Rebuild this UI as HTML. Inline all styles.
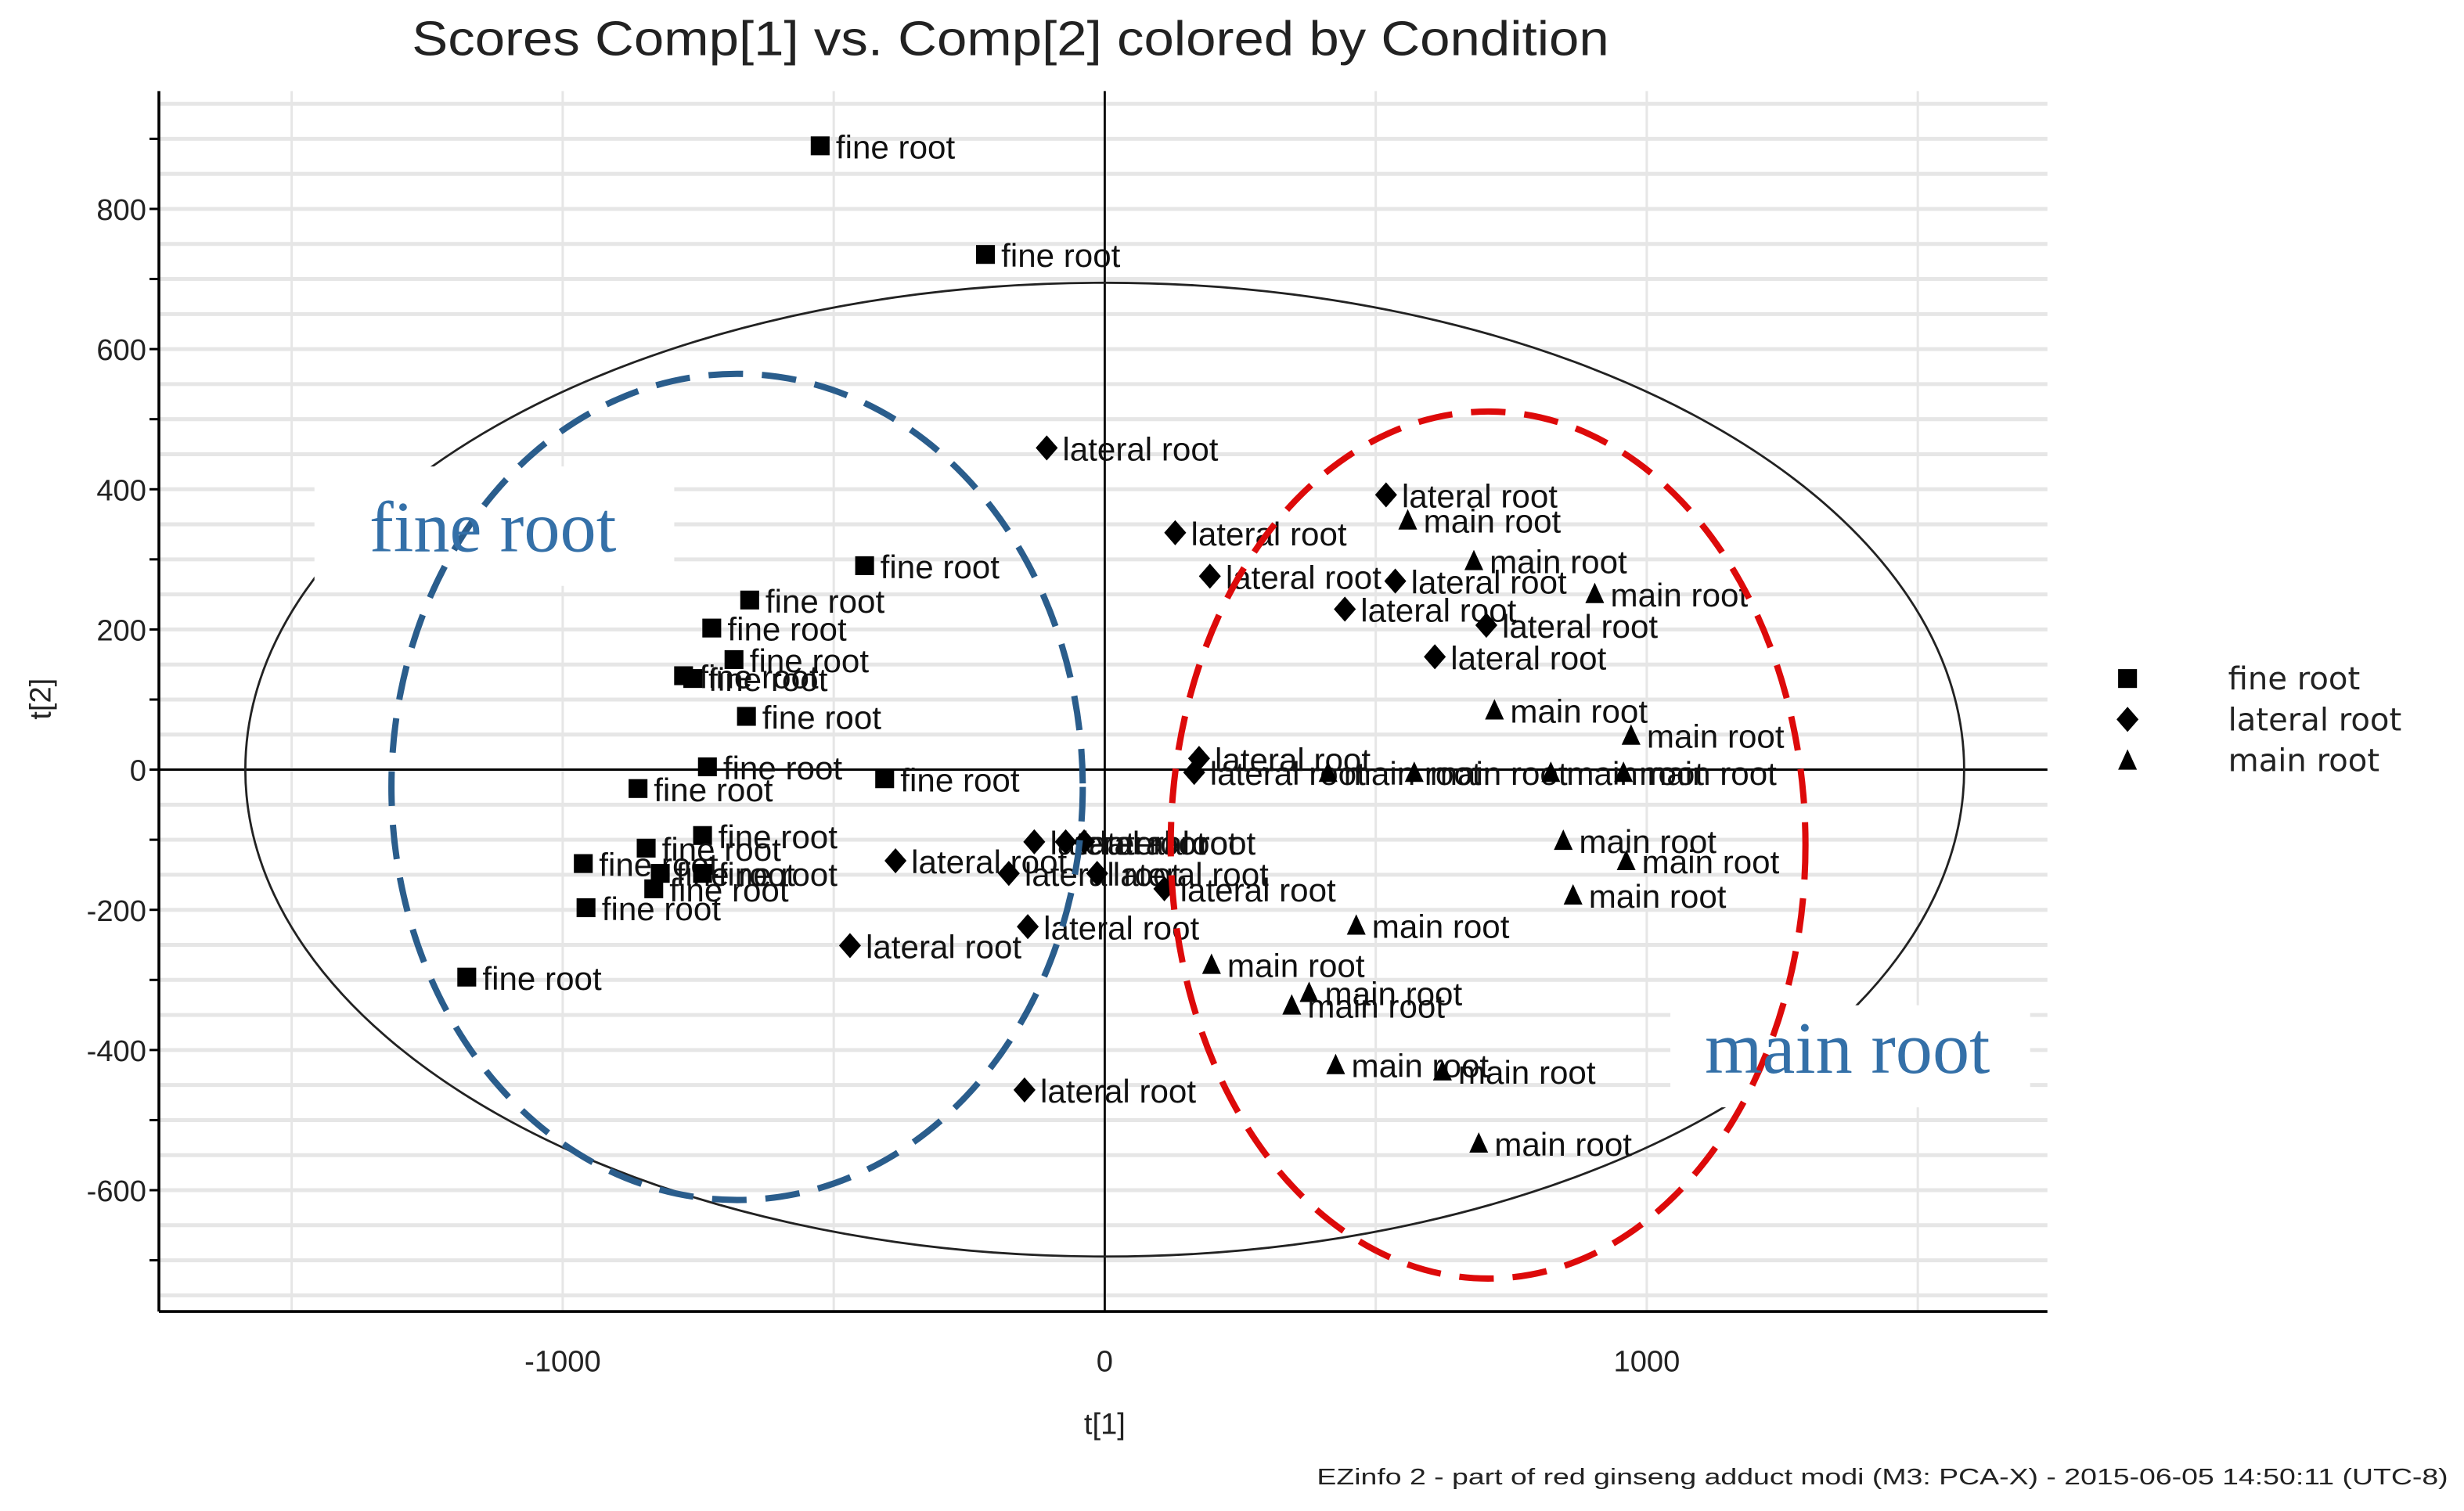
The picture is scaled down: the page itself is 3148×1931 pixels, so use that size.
<!DOCTYPE html>
<html><head><meta charset="utf-8"><style>html,body{margin:0;padding:0;background:#fff}svg{display:block}</style></head>
<body>
<svg id="chart" width="3148" height="1931" viewBox="0 0 1568 962" xmlns="http://www.w3.org/2000/svg" font-family="'Liberation Sans', sans-serif">
<rect x="0" y="0" width="1568" height="962" fill="#fff"/>
<g id="grid"></g>
<g id="axes"></g>
<g id="ellipses"></g>
<g id="points"></g>
<g id="overlays"></g>
</svg>
<script>
const fineX = [-525,-220,-443,-655,-725,-684,-777,-760,-661,-733,-406,-861,-742,-846,-962,-820,-742,-832,-957,-1177];
const fineY = [890,735,291,242,202,157,134,130,76,4,-13,-27,-94,-112,-134,-148,-148,-170,-197,-296];
const latX = [-107,130,194,519,536,443,704,609,174,165,-130,-72,-38,-386,-177,-14,110,-142,-470,-148];
const latY = [459,338,276,392,269,229,206,161,16,-4,-103,-103,-103,-130,-148,-148,-170,-224,-251,-457];
const mainX = [559,681,904,719,971,412,571,823,957,846,962,864,464,197,377,345,426,623,690];
const mainY = [356,298,251,85,49,-4,-4,-4,-4,-101,-130,-179,-222,-278,-318,-336,-421,-430,-533];
const xTicks = [-1000,0,1000];
const yTicks = [800,600,400,200,0,-200,-400,-600];
const xGrid = [-1500,-1000,-500,0,500,1000,1500];

const NS='http://www.w3.org/2000/svg';
const X0=703, XS=0.345, Y0=490, YS=0.44625;
const L=101, R=1303, T=58, B=835;
const sx=v=>X0+v*XS, sy=v=>Y0-v*YS;
function mk(tag, attrs, parent, text){const e=document.createElementNS(NS,tag);for(const k in attrs)e.setAttribute(k,attrs[k]);if(text!==undefined)e.textContent=text;document.getElementById(parent).appendChild(e);return e;}

for(let v=-750; v<=950; v+=50){
  const g=mk('line',{x1:L,x2:R,y1:sy(v),y2:sy(v),stroke:'#e6e6e6','stroke-width':2.5},'grid');
  
  
}
xGrid.forEach(v=>{
  const g=mk('line',{x1:sx(v),x2:sx(v),y1:T,y2:B,stroke:'#e6e6e6','stroke-width':1.5},'grid');
  
  
});
let a=mk('line',{x1:L,x2:L,y1:T,y2:B,stroke:'#000','stroke-width':1.8},'axes');


a=mk('line',{x1:L,x2:R,y1:B,y2:B,stroke:'#000','stroke-width':1.8},'axes');


a=mk('line',{x1:sx(0),x2:sx(0),y1:T,y2:B,stroke:'#000','stroke-width':1.4},'axes');


a=mk('line',{x1:L,x2:R,y1:sy(0),y2:sy(0),stroke:'#000','stroke-width':1.4},'axes');


for(let v=-700; v<=900; v+=100){
  const t=mk('line',{x1:L-6,x2:L,y1:sy(v),y2:sy(v),stroke:'#000','stroke-width':1.5},'axes');
  
  
}
yTicks.forEach(v=>{
  const t=mk('text',{x:93,y:sy(v)+7,'text-anchor':'end','font-size':19,fill:'#222'},'axes',String(v));
  
  
});
xTicks.forEach(v=>{
  const t=mk('text',{x:sx(v),y:873,'text-anchor':'middle','font-size':19,fill:'#222'},'axes',String(v));
  
  
});
a=mk('text',{x:703,y:913,'text-anchor':'middle','font-size':19,fill:'#222'},'axes','t[1]');


a=mk('text',{x:32,y:445,'text-anchor':'middle','font-size':19,fill:'#222',transform:'rotate(-90 32 445)'},'axes','t[2]');


a=mk('text',{x:643,y:35,'text-anchor':'middle','font-size':31,fill:'#222',textLength:762,lengthAdjust:'spacingAndGlyphs'},'axes','Scores Comp[1] vs. Comp[2] colored by Condition');


a=mk('text',{x:1558,y:945,'text-anchor':'end','font-size':14.5,fill:'#222',textLength:720,lengthAdjust:'spacingAndGlyphs'},'axes','EZinfo 2 - part of red ginseng adduct modi (M3: PCA-X) - 2015-06-05 14:50:11 (UTC-8)');



a=mk('ellipse',{cx:sx(0),cy:sy(0),rx:547,ry:310,fill:'none',stroke:'#222','stroke-width':1.4},'ellipses');



function marker(type,x,y){
  let m;
  if(type==='sq') m=mk('rect',{x:x-6,y:y-6,width:12,height:12,fill:'#000'},'points');
  else if(type==='dia') m=mk('polygon',{points:`${x},${y-8} ${x+7},${y} ${x},${y+8} ${x-7},${y}`,fill:'#000'},'points');
  else m=mk('polygon',{points:`${x},${y-7} ${x+6},${y+6} ${x-6},${y+6}`,fill:'#000'},'points');
  return m;
}
function series(xs,ys,type,label,name){
  xs.forEach((v,i)=>{
    const px=sx(v), py=sy(ys[i]);
    const m=marker(type,px,py);
    
    
    const t=mk('text',{x:px+10,y:py+8,'font-size':21,fill:'#111'},'points',label);
    
    
  });
}
series(fineX,fineY,'sq','fine root','fine-root');
series(latX,latY,'dia','lateral root','lateral-root');
series(mainX,mainY,'tri','main root','main-root');

a=mk('rect',{x:200,y:297,width:229,height:76,fill:'#fff'},'overlays');


a=mk('rect',{x:1063,y:640,width:229,height:65,fill:'#fff'},'overlays');


a=mk('ellipse',{cx:469,cy:501,rx:220,ry:263,fill:'none',stroke:'#2a5d8c','stroke-width':4,'stroke-dasharray':'22 12'},'overlays');


a=mk('ellipse',{cx:947,cy:538,rx:202,ry:276,fill:'none',stroke:'#dd0a0a','stroke-width':4,'stroke-dasharray':'22 12'},'overlays');


a=mk('text',{x:235,y:351,'font-size':46,fill:'#3470a8','font-family':"'Liberation Serif', serif"},'overlays','fine root');


a=mk('text',{x:1085,y:683,'font-size':47,fill:'#3470a8','font-family':"'Liberation Serif', serif"},'overlays','main root');



const legTypes=['sq','dia','tri'], legLabels=['fine root','lateral root','main root'], legY=[432,458,484];
legTypes.forEach((t,i)=>{
  const m=marker(t,1354,legY[i]);
  
  
  const tx=mk('text',{x:1418,y:legY[i]+7,'font-size':20,fill:'#222','font-family':"'DejaVu Sans', sans-serif"},'overlays',legLabels[i]);
  
  
});
</script>
</body></html>
